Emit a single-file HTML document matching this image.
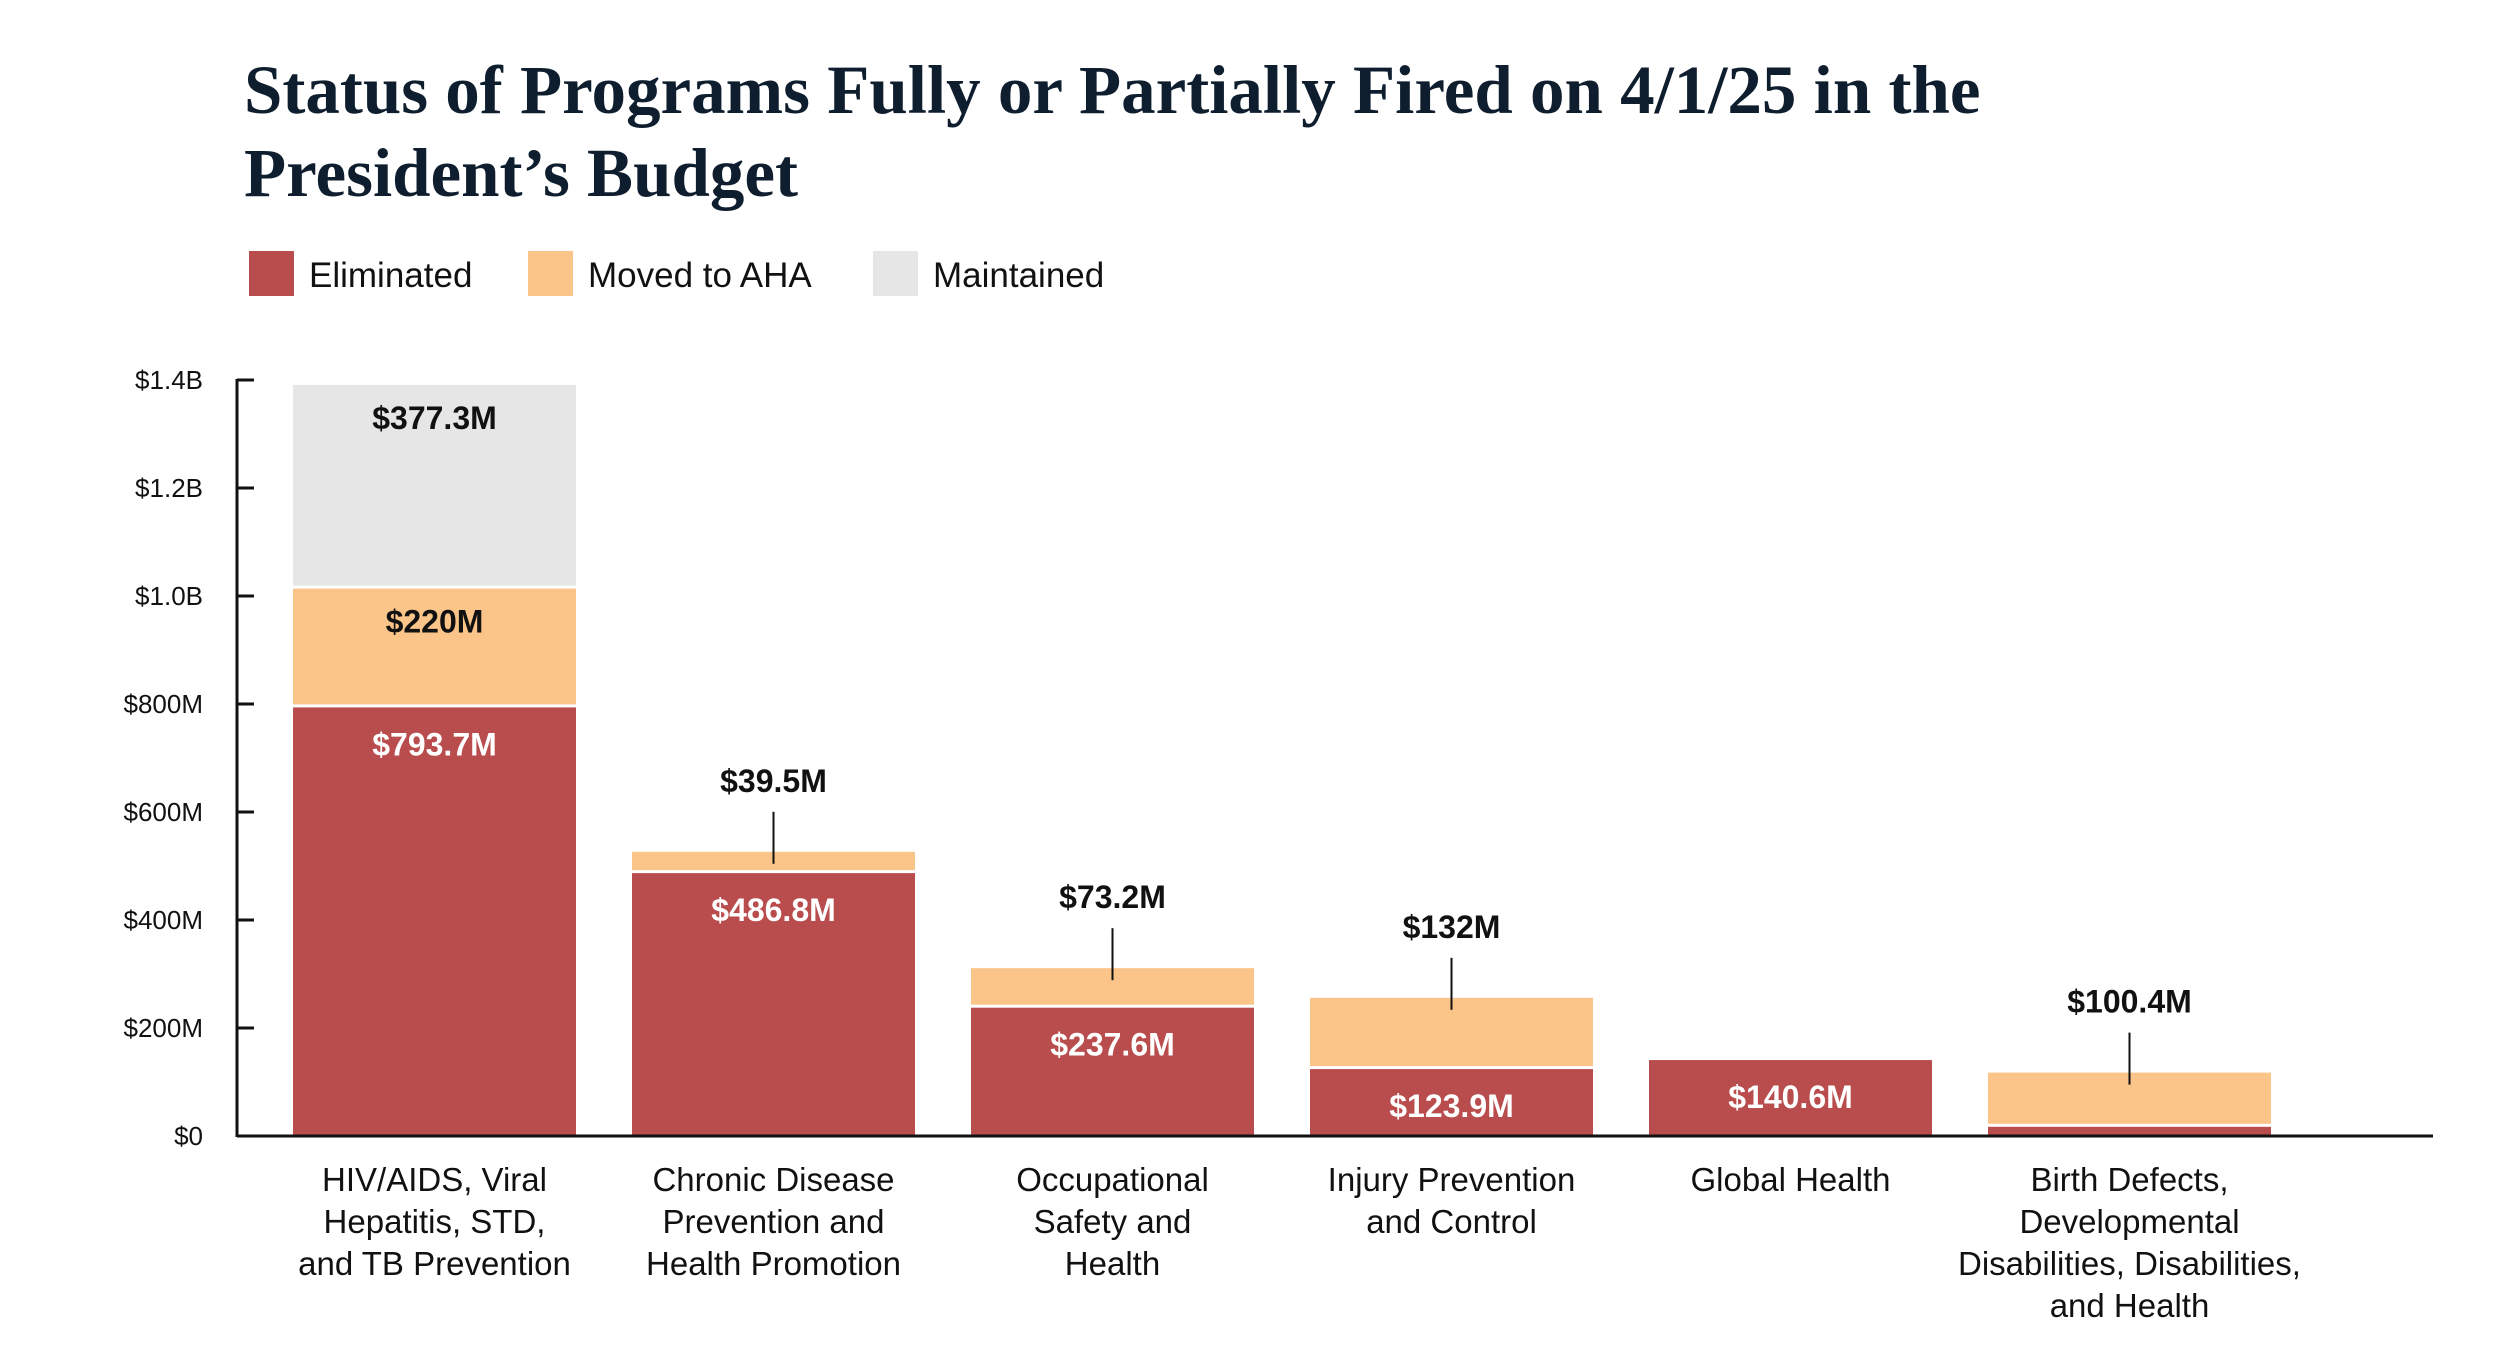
<!DOCTYPE html>
<html><head><meta charset="utf-8"><style>
body{margin:0;background:#fff;width:2500px;height:1357px;overflow:hidden}
svg text{font-family:"Liberation Sans",sans-serif}
</style></head><body>
<svg width="2500" height="1357" viewBox="0 0 2500 1357">
<text x="244" y="113" font-weight="bold" font-size="69" fill="#0f1e2e" style="font-family:'Liberation Serif',serif">Status of Programs Fully or Partially Fired on 4/1/25 in the</text>
<text x="244" y="196" font-weight="bold" font-size="69" fill="#0f1e2e" style="font-family:'Liberation Serif',serif">President’s Budget</text>
<g>
<rect x="249" y="251" width="45" height="45" fill="#b94c4c"/>
<text x="309" y="287" font-size="35" fill="#111">Eliminated</text>
<rect x="528" y="251" width="45" height="45" fill="#fbc488"/>
<text x="588" y="287" font-size="35" fill="#111">Moved to AHA</text>
<rect x="873" y="251" width="45" height="45" fill="#e6e6e6"/>
<text x="933" y="287" font-size="35" fill="#111">Maintained</text>
</g>
<g id="plot"></g>
</svg>
<script>
const categories=[["HIV/AIDS, Viral","Hepatitis, STD,","and TB Prevention"],["Chronic Disease","Prevention and","Health Promotion"],["Occupational","Safety and","Health"],["Injury Prevention","and Control"],["Global Health"],["Birth Defects,","Developmental","Disabilities, Disabilities,","and Health"]];
const eliminated=[793.7,486.8,237.6,123.9,140.6,17];
const movedToAHA=[220,39.5,73.2,132,0,100.4];
const maintained=[377.3,0,0,0,0,0];
const elimLabels=["$793.7M","$486.8M","$237.6M","$123.9M","$140.6M",""];
const ahaLabels=["$220M","$39.5M","$73.2M","$132M","","$100.4M"];
const maintLabels=["$377.3M","","","","",""];
const ticks=[0,200,400,600,800,1000,1200,1400];
const tickLabels=["$0","$200M","$400M","$600M","$800M","$1.0B","$1.2B","$1.4B"];

const NS="http://www.w3.org/2000/svg";
const g=document.getElementById('plot');
const y0=1136,y1=380,axX=237,axEnd=2433;
const y=v=>y0-(v/1400)*(y0-y1);
const bx=i=>293+i*339, bw=283;
function el(t,a,p){const e=document.createElementNS(NS,t);for(const k in a)e.setAttribute(k,a[k]);(p||g).appendChild(e);return e;}
function txt(s,a){const e=el('text',a);e.textContent=s;return e;}

categories.forEach((c,i)=>{
  const segs=[[eliminated[i],'#b94c4c',elimLabels[i],'#fff','eliminated'],[movedToAHA[i],'#fbc488',ahaLabels[i],'#111','moved'],[maintained[i],'#e6e6e6',maintLabels[i],'#111','maintained']];
  let base=0;
  segs.forEach((s,j)=>{
    if(s[0]<=0)return;
    const top=y(base+s[0]),bot=y(base);
    const gap=base>0?3:0;
    const r=el('rect',{x:bx(i),y:top,width:bw,height:Math.max(1,bot-top-gap),fill:s[1]});
    
    
    if(s[2]){
      const inside=(j==0&&s[0]>60)||s[0]>180;
      if(inside){
        const t=txt(s[2],{x:bx(i)+bw/2,y:top+(j==0?48:44),'text-anchor':'middle','font-size':32,'font-weight':'bold',fill:s[3]});
        
        
      }else{
        const cx=bx(i)+bw/2;
        const ln=el('line',{x1:cx,x2:cx,y1:top-40,y2:top+12,stroke:'#111','stroke-width':2});
        
        
        const t=txt(s[2],{x:cx,y:top-60,'text-anchor':'middle','font-size':32,'font-weight':'bold',fill:'#111'});
        
        
      }
    }
    base+=s[0];
  });
  c.forEach((line,k)=>{
    const t=txt(line,{x:bx(i)+bw/2,y:1191+k*42,'text-anchor':'middle','font-size':33,fill:'#111'});
    
    
  });
});
const ya=el('line',{x1:axX,x2:axX,y1:y1-1,y2:y0+1,stroke:'#111','stroke-width':3});


const xa=el('line',{x1:axX,x2:axEnd,y1:y0,y2:y0,stroke:'#111','stroke-width':3});


ticks.forEach((v,i)=>{
  const tk=el('line',{x1:axX,x2:axX+17,y1:y(v),y2:y(v),stroke:'#111','stroke-width':3});
  
  
  const t=txt(tickLabels[i],{x:203,y:y(v)+9,'text-anchor':'end','font-size':26,fill:'#111'});
  
  
});
</script>
</body></html>
